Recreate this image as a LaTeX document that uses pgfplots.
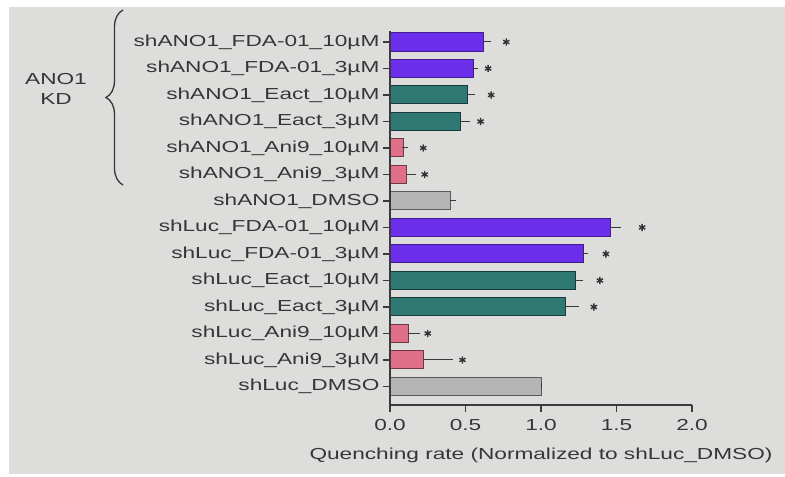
\documentclass[border=0pt]{standalone}
\usepackage{pgfplots}
\pgfplotsset{compat=1.18}
\usepackage{pgfplotstable}
\usepackage{fontspec}
\usetikzlibrary{backgrounds,decorations.pathreplacing}
\newfontfamily\chartfont{Liberation Sans}[FakeStretch=1.42]
\definecolor{bg}{HTML}{DDDDDC}
\definecolor{txt}{HTML}{363636}
\definecolor{cpurple}{HTML}{6B2EEA}
\definecolor{cteal}{HTML}{2F7874}
\definecolor{cpink}{HTML}{E0708A}
\definecolor{cgray}{HTML}{B4B4B4}
\definecolor{axc}{HTML}{3A3A3A}

\pgfplotstableread{
y x err
13 0.62 0.03
12 0.55 0.01
6 1.46 0.05
5 1.28 0.01
}\dpurple
\pgfplotstableread{
y x err
11 0.51 0.03
10 0.47 0.04
4 1.23 0.03
3 1.16 0.07
}\dteal
\pgfplotstableread{
y x err
9 0.09 0.01
8 0.11 0.04
2 0.12 0.06
1 0.22 0.18
}\dpink
\pgfplotstableread{
y x err
7 0.40 0.02
0 1.00 0.00
}\dgray
\pgfplotstableread{
y x
13 0.77
12 0.65
11 0.67
10 0.60
9 0.22
8 0.23
6 1.67
5 1.43
4 1.39
3 1.35
2 0.25
1 0.48
}\dstars

\begin{document}
\begin{tikzpicture}
\useasboundingbox (0,0) rectangle (785bp,477bp);
\fill[white] (0,0) rectangle (785bp,477bp);
\fill[bg] (9bp,3bp) rectangle (785bp,470bp);
\begin{axis}[
  at={(390bp,72bp)}, anchor=south west,
  scale only axis, width=302bp, height=373.6bp,
  xmin=0, xmax=2, ymin=-0.7, ymax=13.4,
  axis lines*=left,
  axis line style={line width=1.6bp, color=axc},
  tick align=outside,
  tick style={color=axc, line width=1.5bp},
  major tick length=0.25cm,
  xtick={0,0.5,1,1.5,2},
  ytick={0,...,13},
  yticklabels={shLuc\_DMSO, shLuc\_Ani9\_3µM, shLuc\_Ani9\_10µM, shLuc\_Eact\_3µM, shLuc\_Eact\_10µM, shLuc\_FDA-01\_3µM, shLuc\_FDA-01\_10µM, shANO1\_DMSO, shANO1\_Ani9\_3µM, shANO1\_Ani9\_10µM, shANO1\_Eact\_3µM, shANO1\_Eact\_10µM, shANO1\_FDA-01\_3µM, shANO1\_FDA-01\_10µM},
  /pgf/number format/assume math mode=true,
  xticklabel style={/pgf/number format/fixed, /pgf/number format/precision=1, /pgf/number format/fixed zerofill, yshift=-4bp},
  ticklabel style={font=\chartfont\fontsize{16}{18}\selectfont, text=txt},
  xlabel={Quenching rate (Normalized to shLuc\_DMSO)},
  xlabel style={font=\chartfont\fontsize{16}{18}\selectfont, text=txt, yshift=-10bp},
  axis on top,
]
\addplot[xbar, bar width=0.68, bar shift=0pt, fill=cpurple, draw=cpurple!60!black, line width=1bp,
  error bars/.cd, x dir=plus, x explicit,
  error bar style={line width=1bp, color=axc}, error mark options={mark size=3bp, line width=1bp, color=axc}]
  table[x=x, y=y, x error=err]{\dpurple};
\addplot[xbar, bar width=0.68, bar shift=0pt, fill=cteal, draw=cteal!50!black, line width=1bp,
  error bars/.cd, x dir=plus, x explicit,
  error bar style={line width=1bp, color=axc}, error mark options={mark size=3bp, line width=1bp, color=axc}]
  table[x=x, y=y, x error=err]{\dteal};
\addplot[xbar, bar width=0.68, bar shift=0pt, fill=cpink, draw=cpink!50!black, line width=1bp,
  error bars/.cd, x dir=plus, x explicit,
  error bar style={line width=1bp, color=axc}, error mark options={mark size=3bp, line width=1bp, color=axc}]
  table[x=x, y=y, x error=err]{\dpink};
\addplot[xbar, bar width=0.68, bar shift=0pt, fill=cgray, draw=black!65, line width=1bp,
  error bars/.cd, x dir=plus, x explicit,
  error bar style={line width=1bp, color=axc}, error mark options={mark size=3bp, line width=1bp, color=axc}]
  table[x=x, y=y, x error=err]{\dgray};
\addplot[only marks, mark=asterisk, mark size=3.6bp, line width=1.4bp, color=black!80]
  table[x=x, y=y]{\dstars};
\end{axis}
\draw[decorate, decoration={brace, amplitude=17bp}, line width=1.3bp, color=txt]
  (123bp,292bp) -- (123bp,467bp);
\node[font=\chartfont\fontsize{16}{18}\selectfont, text=txt, align=center] at (56bp,388bp) {ANO1\\[2bp]KD};
\end{tikzpicture}
\end{document}
